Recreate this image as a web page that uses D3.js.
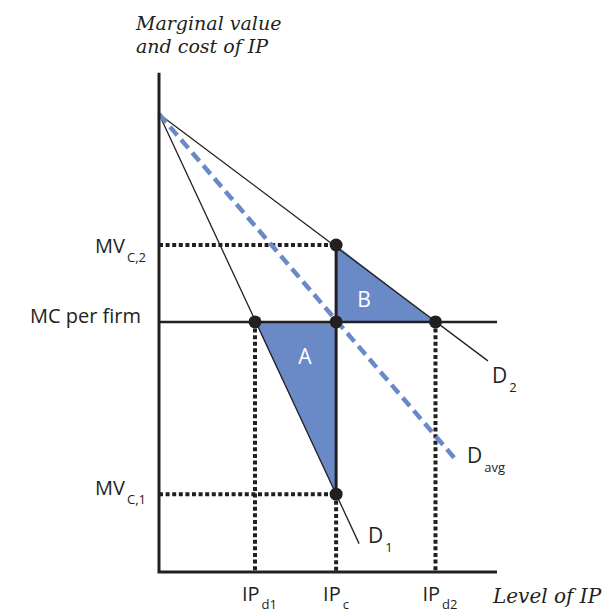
<!DOCTYPE html>
<html>
<head>
<meta charset="utf-8">
<script src="https://cdn.jsdelivr.net/npm/d3@7"></script>
<style>
    body { margin: 0; background: #fff; }
    svg { display: block; }
</style>
</head>
<body>
<div id="chart"></div>
<script>
(function () {
    'use strict';

    // values (axis units: 0..10 on both axes)
    var intercept = 10;
    var xTickValues = [2.84, 5.24, 8.18];
    var xTickMain = ['IP', 'IP', 'IP'];
    var xTickSub = ['d1', 'c', 'd2'];
    var yTickValues = [7.14, 5.46, 1.70];
    var yTickMain = ['MV', 'MC per firm', 'MV'];
    var yTickSub = ['C,2', '', 'C,1'];
    var curveNames = ['D', 'D', 'D'];
    var curveSubs = ['1', '2', 'avg'];
    var curveEndX = [5.92, 9.73, 8.82];
    var curveEndY = [0.62, 4.61, 2.42];
    var areaNames = ['A', 'B'];

    var width = 603, height = 614;
    var ink = '#231f20';
    var blue = '#6a8ac7';

    var x = d3.scaleLinear().domain([0, 10]).range([159, 497]);
    var y = d3.scaleLinear().domain([0, 10]).range([572, 114]);

    var svg = d3.select('#chart').append('svg')
        .attr('width', width)
        .attr('height', height);

    var ipD1 = xTickValues[0], ipC = xTickValues[1], ipD2 = xTickValues[2];
    var mvC2 = yTickValues[0], mc = yTickValues[1], mvC1 = yTickValues[2];

    var line = d3.line()
        .x(function (d) { return x(d[0]); })
        .y(function (d) { return y(d[1]); });

    // shaded areas A and B
    var areas = [
        [[ipD1, mc], [ipC, mc], [ipC, mvC1]],
        [[ipC, mvC2], [ipC, mc], [ipD2, mc]]
    ];
    svg.selectAll('.area')
        .data(areas)
        .enter().append('path')
        .attr('class', 'area')
        .attr('d', function (d) { return line(d) + 'Z'; })
        .attr('fill', blue);

    // dotted guides
    var guides = [
        [[0, mvC2], [ipC, mvC2]],
        [[0, mvC1], [ipC, mvC1]],
        [[ipD1, mc], [ipD1, 0]],
        [[ipD2, mc], [ipD2, 0]],
        [[ipC, mvC1], [ipC, 0]]
    ];
    svg.selectAll('.guide')
        .data(guides)
        .enter().append('path')
        .attr('class', 'guide')
        .attr('d', line)
        .attr('fill', 'none')
        .attr('stroke', ink)
        .attr('stroke-width', 4)
        .attr('stroke-dasharray', '4,2.6');

    // demand curves D1, D2 (thin) and Davg (blue dashed)
    svg.selectAll('.curve')
        .data([0, 1])
        .enter().append('path')
        .attr('class', 'curve')
        .attr('d', function (i) { return line([[0, intercept], [curveEndX[i], curveEndY[i]]]); })
        .attr('fill', 'none')
        .attr('stroke', ink)
        .attr('stroke-width', 1.3);

    svg.append('path')
        .attr('d', line([[0, intercept], [curveEndX[2], curveEndY[2]]]))
        .attr('fill', 'none')
        .attr('stroke', blue)
        .attr('stroke-width', 4.5)
        .attr('stroke-dasharray', '11,6');

    // MC line and the solid segment at IPc
    svg.append('path')
        .attr('d', line([[0, mc], [10, mc]]))
        .attr('stroke', ink)
        .attr('stroke-width', 2.6);
    svg.append('path')
        .attr('d', line([[ipC, mvC2], [ipC, mvC1]]))
        .attr('stroke', ink)
        .attr('stroke-width', 3);

    // axes
    svg.append('path')
        .attr('d', 'M' + x(0) + ',' + y(10.9) + 'V' + y(0) + 'H' + x(10))
        .attr('fill', 'none')
        .attr('stroke', ink)
        .attr('stroke-width', 3);

    // dots
    var dots = [[ipC, mvC2], [ipD1, mc], [ipC, mc], [ipD2, mc], [ipC, mvC1]];
    svg.selectAll('.dot')
        .data(dots)
        .enter().append('circle')
        .attr('class', 'dot')
        .attr('cx', function (d) { return x(d[0]); })
        .attr('cy', function (d) { return y(d[1]); })
        .attr('r', 6.5)
        .attr('fill', ink);

    var sans = "'Open Sans', 'Noto Sans', sans-serif";
    var serif = "'DejaVu Serif', serif";

    function subLabel(g, main, sub, mainSize, subSize, subDy) {
        var t = g.append('text')
            .attr('font-family', sans)
            .attr('fill', ink);
        t.append('tspan').attr('font-size', mainSize).text(main);
        if (sub) {
            t.append('tspan')
                .attr('font-size', subSize)
                .attr('dx', 2)
                .attr('dy', subDy)
                .text(sub);
        }
        return t;
    }

    // y labels
    var yDy = [8, 1, 1];
    yTickValues.forEach(function (v, i) {
        var g = svg.append('g');
        subLabel(g, yTickMain[i], yTickSub[i], 20, 13, 9)
            .attr('text-anchor', 'end')
            .attr('x', yTickSub[i] ? 146 : 141)
            .attr('y', y(v) + yDy[i]);
    });

    // x labels
    xTickValues.forEach(function (v, i) {
        var g = svg.append('g');
        subLabel(g, xTickMain[i], xTickSub[i], 20, 13, 8)
            .attr('x', x(v) - 13)
            .attr('y', 601);
    });

    // curve labels
    var curveLabelPos = [[368, 543], [492, 383], [467, 463]];
    curveNames.forEach(function (n, i) {
        var g = svg.append('g');
        subLabel(g, n, curveSubs[i], 21, 13, 9)
            .attr('x', curveLabelPos[i][0])
            .attr('y', curveLabelPos[i][1]);
    });

    // area labels
    var areaLabelPos = [[305, 364], [364, 307]];
    areaNames.forEach(function (n, i) {
        svg.append('text')
            .attr('x', areaLabelPos[i][0])
            .attr('y', areaLabelPos[i][1])
            .attr('text-anchor', 'middle')
            .attr('font-family', sans)
            .attr('font-size', 21)
            .attr('fill', '#fff')
            .text(n);
    });

    // axis titles
    svg.append('text')
        .attr('x', 136)
        .attr('y', 30)
        .attr('font-family', serif)
        .attr('font-style', 'italic')
        .attr('font-size', 19)
        .attr('fill', ink)
        .text('Marginal value');
    svg.append('text')
        .attr('x', 136)
        .attr('y', 53)
        .attr('font-family', serif)
        .attr('font-style', 'italic')
        .attr('font-size', 19)
        .attr('fill', ink)
        .text('and cost of IP');

    svg.append('text')
        .attr('x', 493)
        .attr('y', 603)
        .attr('font-family', serif)
        .attr('font-style', 'italic')
        .attr('font-size', 20)
        .attr('fill', ink)
        .text('Level of IP');
})();
</script>
</body>
</html>
